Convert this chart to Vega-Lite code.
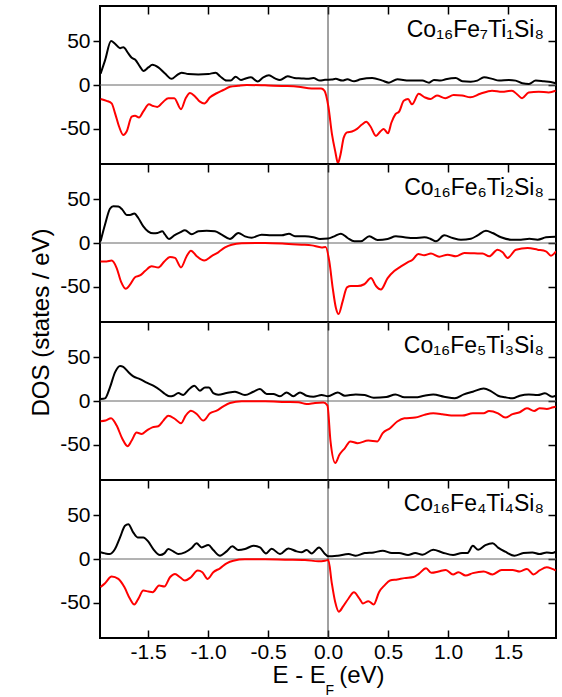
{
"$schema": "https://vega.github.io/schema/vega-lite/v6.json",
"padding": {"left": 28, "top": 4, "right": 2, "bottom": 0},
"spacing": 0,
"bounds": "flush",
"config": {
  "font": "Liberation Sans",
  "view": {"stroke": "black", "strokeWidth": 2},
  "axis": {"domain": false, "grid": false, "tickColor": "black", "tickWidth": 1.5, "labelColor": "black", "labelFont": "Liberation Sans", "labelFontSize": 21, "titleFont": "Liberation Sans", "titleFontSize": 24, "titleFontWeight": "normal", "titleColor": "black"}
},
"datasets": {
"p1up": [{"E":-1.895,"v":13},{"E":-1.858,"v":28},{"E":-1.808,"v":50},{"E":-1.775,"v":47},{"E":-1.733,"v":42},{"E":-1.706,"v":43},{"E":-1.664,"v":36},{"E":-1.636,"v":31},{"E":-1.608,"v":29},{"E":-1.567,"v":21},{"E":-1.539,"v":16},{"E":-1.497,"v":20},{"E":-1.464,"v":23},{"E":-1.414,"v":20},{"E":-1.358,"v":13},{"E":-1.303,"v":7},{"E":-1.261,"v":11},{"E":-1.22,"v":14},{"E":-1.164,"v":12.5},{"E":-1.081,"v":12},{"E":-0.997,"v":12.5},{"E":-0.936,"v":14},{"E":-0.9,"v":10},{"E":-0.845,"v":5},{"E":-0.811,"v":5},{"E":-0.77,"v":9.4},{"E":-0.725,"v":5.7},{"E":-0.686,"v":7.5},{"E":-0.642,"v":8.7},{"E":-0.586,"v":4},{"E":-0.539,"v":8.7},{"E":-0.492,"v":11},{"E":-0.442,"v":7.5},{"E":-0.4,"v":5.7},{"E":-0.336,"v":10},{"E":-0.281,"v":8},{"E":-0.22,"v":7.5},{"E":-0.17,"v":7},{"E":-0.122,"v":8},{"E":-0.067,"v":5},{"E":-0.025,"v":6},{"E":0.03,"v":6.2},{"E":0.064,"v":7},{"E":0.119,"v":5},{"E":0.161,"v":6.5},{"E":0.217,"v":4.2},{"E":0.272,"v":6.5},{"E":0.369,"v":8},{"E":0.453,"v":5},{"E":0.508,"v":2.7},{"E":0.578,"v":6.5},{"E":0.675,"v":5},{"E":0.786,"v":5},{"E":0.842,"v":2.7},{"E":0.883,"v":5.8},{"E":0.939,"v":5},{"E":0.981,"v":6.5},{"E":1.064,"v":8},{"E":1.12,"v":4.2},{"E":1.189,"v":3.8},{"E":1.244,"v":5},{"E":1.3,"v":8.8},{"E":1.369,"v":7},{"E":1.425,"v":5},{"E":1.508,"v":5.8},{"E":1.564,"v":5},{"E":1.619,"v":2},{"E":1.675,"v":1.2},{"E":1.731,"v":5},{"E":1.8,"v":4.2},{"E":1.856,"v":3.5},{"E":1.897,"v":2}],
"p1dn": [{"E":-1.895,"v":-16},{"E":-1.845,"v":-18},{"E":-1.803,"v":-21},{"E":-1.775,"v":-32},{"E":-1.742,"v":-47},{"E":-1.706,"v":-57},{"E":-1.678,"v":-53},{"E":-1.636,"v":-36},{"E":-1.608,"v":-35},{"E":-1.575,"v":-37},{"E":-1.539,"v":-30},{"E":-1.492,"v":-22},{"E":-1.456,"v":-24},{"E":-1.422,"v":-25},{"E":-1.372,"v":-19},{"E":-1.331,"v":-15},{"E":-1.281,"v":-15},{"E":-1.225,"v":-27.5},{"E":-1.186,"v":-15},{"E":-1.15,"v":-9},{"E":-1.108,"v":-13},{"E":-1.067,"v":-19},{"E":-1.031,"v":-21},{"E":-0.983,"v":-14},{"E":-0.928,"v":-9.4},{"E":-0.872,"v":-5.7},{"E":-0.817,"v":-2},{"E":-0.747,"v":-0.8},{"E":-0.678,"v":0},{"E":-0.525,"v":-0.4},{"E":-0.358,"v":-1.1},{"E":-0.247,"v":-2},{"E":-0.136,"v":-4},{"E":-0.058,"v":-4},{"E":-0.03,"v":-6.4},{"E":0.003,"v":-24.5},{"E":0.033,"v":-56},{"E":0.061,"v":-76},{"E":0.083,"v":-89},{"E":0.103,"v":-80},{"E":0.131,"v":-60},{"E":0.158,"v":-54},{"E":0.2,"v":-53},{"E":0.242,"v":-50},{"E":0.283,"v":-45},{"E":0.319,"v":-42},{"E":0.353,"v":-47},{"E":0.4,"v":-58},{"E":0.436,"v":-53},{"E":0.464,"v":-50},{"E":0.5,"v":-55},{"E":0.528,"v":-43},{"E":0.561,"v":-33.5},{"E":0.594,"v":-30},{"E":0.631,"v":-18},{"E":0.667,"v":-16},{"E":0.7,"v":-22},{"E":0.756,"v":-10},{"E":0.806,"v":-14},{"E":0.853,"v":-16},{"E":0.908,"v":-12},{"E":0.978,"v":-15},{"E":1.047,"v":-11.5},{"E":1.117,"v":-12},{"E":1.186,"v":-14},{"E":1.269,"v":-10},{"E":1.367,"v":-6.5},{"E":1.45,"v":-7.7},{"E":1.533,"v":-6.5},{"E":1.575,"v":-10.5},{"E":1.617,"v":-15},{"E":1.672,"v":-8.5},{"E":1.756,"v":-7.7},{"E":1.839,"v":-8.5},{"E":1.897,"v":-6.5}],
"p2up": [{"E":-1.895,"v":2},{"E":-1.858,"v":21},{"E":-1.817,"v":39},{"E":-1.789,"v":42},{"E":-1.747,"v":41.5},{"E":-1.714,"v":38},{"E":-1.678,"v":32},{"E":-1.65,"v":32},{"E":-1.614,"v":33.5},{"E":-1.581,"v":28.5},{"E":-1.539,"v":19},{"E":-1.497,"v":13},{"E":-1.456,"v":11},{"E":-1.42,"v":11.4},{"E":-1.381,"v":13.3},{"E":-1.358,"v":9.5},{"E":-1.325,"v":4.6},{"E":-1.281,"v":8.7},{"E":-1.233,"v":12},{"E":-1.192,"v":14.4},{"E":-1.136,"v":10},{"E":-1.081,"v":13.3},{"E":-1.011,"v":14},{"E":-0.942,"v":13.3},{"E":-0.886,"v":9.5},{"E":-0.817,"v":4.6},{"E":-0.747,"v":11.4},{"E":-0.692,"v":7.6},{"E":-0.636,"v":6},{"E":-0.553,"v":9.5},{"E":-0.47,"v":8.7},{"E":-0.386,"v":8.7},{"E":-0.325,"v":10.6},{"E":-0.275,"v":7.6},{"E":-0.192,"v":7.6},{"E":-0.122,"v":6.5},{"E":-0.067,"v":4.6},{"E":0,"v":5},{"E":0.052,"v":7.6},{"E":0.108,"v":10.6},{"E":0.163,"v":5.7},{"E":0.219,"v":1.9},{"E":0.275,"v":1.9},{"E":0.344,"v":7.6},{"E":0.413,"v":3.4},{"E":0.497,"v":4.6},{"E":0.566,"v":7.6},{"E":0.636,"v":6.5},{"E":0.719,"v":5.7},{"E":0.803,"v":6.5},{"E":0.852,"v":4.9},{"E":0.9,"v":1.9},{"E":0.969,"v":8.7},{"E":1.039,"v":5.7},{"E":1.108,"v":3.8},{"E":1.191,"v":4.9},{"E":1.247,"v":8.7},{"E":1.316,"v":14},{"E":1.372,"v":11.4},{"E":1.442,"v":6.5},{"E":1.525,"v":3.8},{"E":1.608,"v":3.8},{"E":1.678,"v":4.9},{"E":1.747,"v":3.8},{"E":1.817,"v":6.5},{"E":1.892,"v":7.2}],
"p2dn": [{"E":-1.895,"v":-21},{"E":-1.845,"v":-21},{"E":-1.803,"v":-20},{"E":-1.761,"v":-28.5},{"E":-1.725,"v":-44},{"E":-1.686,"v":-52},{"E":-1.65,"v":-47.5},{"E":-1.608,"v":-39},{"E":-1.567,"v":-37},{"E":-1.525,"v":-32},{"E":-1.47,"v":-26.6},{"E":-1.414,"v":-27.8},{"E":-1.364,"v":-21},{"E":-1.317,"v":-16},{"E":-1.275,"v":-17},{"E":-1.225,"v":-27.8},{"E":-1.178,"v":-15},{"E":-1.142,"v":-8.7},{"E":-1.094,"v":-15},{"E":-1.031,"v":-20},{"E":-0.97,"v":-15},{"E":-0.914,"v":-10.6},{"E":-0.858,"v":-5},{"E":-0.803,"v":-1.9},{"E":-0.719,"v":-0.4},{"E":-0.525,"v":0},{"E":-0.358,"v":-0.8},{"E":-0.22,"v":-1.9},{"E":-0.136,"v":-2.7},{"E":-0.053,"v":-5},{"E":-0.02,"v":-4.5},{"E":0.011,"v":-21},{"E":0.039,"v":-51},{"E":0.066,"v":-74},{"E":0.088,"v":-81},{"E":0.122,"v":-66.5},{"E":0.158,"v":-50.5},{"E":0.191,"v":-49},{"E":0.247,"v":-49},{"E":0.302,"v":-47},{"E":0.358,"v":-40},{"E":0.4,"v":-49},{"E":0.441,"v":-53},{"E":0.497,"v":-40},{"E":0.552,"v":-32},{"E":0.608,"v":-26.6},{"E":0.663,"v":-22},{"E":0.705,"v":-19},{"E":0.752,"v":-12.5},{"E":0.802,"v":-14},{"E":0.858,"v":-12},{"E":0.927,"v":-15.6},{"E":0.997,"v":-13.3},{"E":1.066,"v":-15.2},{"E":1.136,"v":-11.4},{"E":1.219,"v":-11.8},{"E":1.288,"v":-12},{"E":1.344,"v":-15.2},{"E":1.413,"v":-7.6},{"E":1.455,"v":-10.6},{"E":1.497,"v":-17},{"E":1.566,"v":-7.6},{"E":1.663,"v":-5.7},{"E":1.747,"v":-7.6},{"E":1.816,"v":-9.5},{"E":1.858,"v":-14.4},{"E":1.9,"v":-9.5}],
"p3up": [{"E":-1.895,"v":2.3},{"E":-1.858,"v":3},{"E":-1.817,"v":15.5},{"E":-1.775,"v":32.6},{"E":-1.733,"v":40},{"E":-1.706,"v":39},{"E":-1.664,"v":33},{"E":-1.622,"v":28},{"E":-1.567,"v":25},{"E":-1.511,"v":21},{"E":-1.456,"v":17.4},{"E":-1.4,"v":12.5},{"E":-1.358,"v":8},{"E":-1.317,"v":5.3},{"E":-1.289,"v":6},{"E":-1.247,"v":9},{"E":-1.206,"v":6.8},{"E":-1.164,"v":12.5},{"E":-1.114,"v":17.4},{"E":-1.067,"v":11.7},{"E":-1.025,"v":15.5},{"E":-0.992,"v":15.5},{"E":-0.956,"v":9},{"E":-0.914,"v":7.2},{"E":-0.845,"v":9},{"E":-0.775,"v":10.6},{"E":-0.692,"v":6.8},{"E":-0.622,"v":10.6},{"E":-0.567,"v":13.6},{"E":-0.511,"v":8},{"E":-0.456,"v":8},{"E":-0.4,"v":5.3},{"E":-0.345,"v":9.8},{"E":-0.289,"v":5.3},{"E":-0.233,"v":9.8},{"E":-0.178,"v":6},{"E":-0.122,"v":4.9},{"E":-0.053,"v":6.8},{"E":0,"v":5.5},{"E":0.081,"v":9.8},{"E":0.141,"v":6},{"E":0.231,"v":7.5},{"E":0.306,"v":6.8},{"E":0.381,"v":3.8},{"E":0.486,"v":4.5},{"E":0.562,"v":7.5},{"E":0.637,"v":4.2},{"E":0.727,"v":4.2},{"E":0.802,"v":6},{"E":0.877,"v":7.5},{"E":0.967,"v":4.9},{"E":1.057,"v":3},{"E":1.132,"v":7.5},{"E":1.207,"v":10.6},{"E":1.297,"v":14.3},{"E":1.357,"v":11.3},{"E":1.417,"v":6},{"E":1.477,"v":4.2},{"E":1.538,"v":3},{"E":1.598,"v":6},{"E":1.673,"v":7.5},{"E":1.748,"v":6.8},{"E":1.808,"v":8.7},{"E":1.868,"v":4.9},{"E":1.898,"v":6}],
"p3dn": [{"E":-1.895,"v":-23},{"E":-1.853,"v":-22.3},{"E":-1.808,"v":-19.7},{"E":-1.761,"v":-28},{"E":-1.714,"v":-43},{"E":-1.67,"v":-51.5},{"E":-1.636,"v":-45},{"E":-1.595,"v":-36},{"E":-1.553,"v":-37.5},{"E":-1.511,"v":-33.7},{"E":-1.464,"v":-30},{"E":-1.414,"v":-28.8},{"E":-1.372,"v":-22.3},{"E":-1.331,"v":-16.7},{"E":-1.275,"v":-20.5},{"E":-1.225,"v":-25.4},{"E":-1.186,"v":-16.7},{"E":-1.142,"v":-11},{"E":-1.094,"v":-14.8},{"E":-1.039,"v":-22.3},{"E":-0.983,"v":-14},{"E":-0.928,"v":-11},{"E":-0.872,"v":-6},{"E":-0.817,"v":-2.3},{"E":-0.719,"v":-0.4},{"E":-0.525,"v":-0.4},{"E":-0.358,"v":-1.1},{"E":-0.247,"v":-1.5},{"E":-0.178,"v":-3.4},{"E":-0.108,"v":-2.3},{"E":-0.039,"v":-1.8},{"E":-0.005,"v":-5},{"E":0.021,"v":-46},{"E":0.06,"v":-70.5},{"E":0.096,"v":-61},{"E":0.141,"v":-53.6},{"E":0.186,"v":-46},{"E":0.246,"v":-48},{"E":0.336,"v":-45},{"E":0.411,"v":-46},{"E":0.456,"v":-36.6},{"E":0.517,"v":-31},{"E":0.577,"v":-23.4},{"E":0.637,"v":-19.6},{"E":0.727,"v":-18.9},{"E":0.802,"v":-15.8},{"E":0.877,"v":-14},{"E":0.952,"v":-15},{"E":1.027,"v":-16.6},{"E":1.117,"v":-16.6},{"E":1.207,"v":-14},{"E":1.297,"v":-14},{"E":1.342,"v":-11.3},{"E":1.417,"v":-14},{"E":1.477,"v":-18.9},{"E":1.538,"v":-15},{"E":1.598,"v":-12.8},{"E":1.658,"v":-8.3},{"E":1.718,"v":-11.3},{"E":1.763,"v":-8.3},{"E":1.823,"v":-9},{"E":1.868,"v":-7.5},{"E":1.898,"v":-6.4}],
"p4up": [{"E":-1.895,"v":7.6},{"E":-1.858,"v":6.4},{"E":-1.817,"v":5.7},{"E":-1.775,"v":11.3},{"E":-1.733,"v":24.6},{"E":-1.692,"v":37.8},{"E":-1.664,"v":39.7},{"E":-1.622,"v":30},{"E":-1.586,"v":24.6},{"E":-1.539,"v":24.6},{"E":-1.497,"v":19.7},{"E":-1.456,"v":11.3},{"E":-1.4,"v":4.5},{"E":-1.364,"v":6.4},{"E":-1.331,"v":11.3},{"E":-1.289,"v":8.7},{"E":-1.247,"v":5.7},{"E":-1.192,"v":7.6},{"E":-1.136,"v":12.5},{"E":-1.095,"v":18},{"E":-1.053,"v":13.2},{"E":-0.997,"v":15.9},{"E":-0.956,"v":10.2},{"E":-0.9,"v":3.8},{"E":-0.845,"v":8.7},{"E":-0.797,"v":14.4},{"E":-0.747,"v":10.2},{"E":-0.692,"v":11.3},{"E":-0.622,"v":15.1},{"E":-0.567,"v":13.2},{"E":-0.517,"v":6.4},{"E":-0.47,"v":11.7},{"E":-0.4,"v":5.7},{"E":-0.331,"v":12.1},{"E":-0.261,"v":8.7},{"E":-0.22,"v":7.6},{"E":-0.178,"v":10.2},{"E":-0.136,"v":6.4},{"E":-0.075,"v":13.2},{"E":-0.025,"v":5.7},{"E":0.003,"v":3},{"E":0.081,"v":3.8},{"E":0.171,"v":5.6},{"E":0.231,"v":3.8},{"E":0.306,"v":6.8},{"E":0.381,"v":7.5},{"E":0.456,"v":9.4},{"E":0.532,"v":6.8},{"E":0.592,"v":6.8},{"E":0.667,"v":4.5},{"E":0.727,"v":6.8},{"E":0.787,"v":4.9},{"E":0.877,"v":10.5},{"E":0.952,"v":7.5},{"E":1.042,"v":4.5},{"E":1.117,"v":6.8},{"E":1.162,"v":6.8},{"E":1.207,"v":15},{"E":1.252,"v":10.5},{"E":1.312,"v":15.8},{"E":1.372,"v":18},{"E":1.417,"v":13},{"E":1.477,"v":8.3},{"E":1.553,"v":3.8},{"E":1.628,"v":6.8},{"E":1.703,"v":7.5},{"E":1.763,"v":5.6},{"E":1.823,"v":7.5},{"E":1.868,"v":6.8},{"E":1.898,"v":8.3}],
"p4dn": [{"E":-1.895,"v":-32},{"E":-1.858,"v":-27.6},{"E":-1.803,"v":-20},{"E":-1.747,"v":-22.7},{"E":-1.697,"v":-32},{"E":-1.65,"v":-45.4},{"E":-1.614,"v":-51.8},{"E":-1.581,"v":-45.4},{"E":-1.539,"v":-36},{"E":-1.497,"v":-37},{"E":-1.461,"v":-37.8},{"E":-1.408,"v":-30.2},{"E":-1.364,"v":-31.4},{"E":-1.317,"v":-20.8},{"E":-1.275,"v":-17},{"E":-1.233,"v":-20.8},{"E":-1.192,"v":-24.6},{"E":-1.142,"v":-20.8},{"E":-1.086,"v":-13.2},{"E":-1.047,"v":-15.1},{"E":-1.003,"v":-22.7},{"E":-0.956,"v":-15.1},{"E":-0.9,"v":-10.6},{"E":-0.845,"v":-4.9},{"E":-0.789,"v":-1.9},{"E":-0.692,"v":-0.4},{"E":-0.525,"v":-0.4},{"E":-0.358,"v":-0.8},{"E":-0.192,"v":-1.1},{"E":-0.081,"v":-2.6},{"E":-0.025,"v":-1.9},{"E":0.003,"v":-1.1},{"E":0.03,"v":-26},{"E":0.06,"v":-49},{"E":0.09,"v":-60},{"E":0.126,"v":-54},{"E":0.171,"v":-45},{"E":0.216,"v":-38},{"E":0.261,"v":-45},{"E":0.291,"v":-50.6},{"E":0.336,"v":-48},{"E":0.381,"v":-51.8},{"E":0.426,"v":-37.5},{"E":0.471,"v":-30},{"E":0.517,"v":-24.4},{"E":0.577,"v":-23.3},{"E":0.637,"v":-21.8},{"E":0.712,"v":-20.6},{"E":0.757,"v":-16.9},{"E":0.817,"v":-10.5},{"E":0.862,"v":-15.8},{"E":0.922,"v":-14.3},{"E":0.982,"v":-12.4},{"E":1.042,"v":-17.6},{"E":1.087,"v":-15},{"E":1.147,"v":-18.8},{"E":1.207,"v":-16.1},{"E":1.297,"v":-14.3},{"E":1.372,"v":-17.6},{"E":1.447,"v":-12.4},{"E":1.538,"v":-12.4},{"E":1.598,"v":-14.3},{"E":1.658,"v":-11.3},{"E":1.712,"v":-17.6},{"E":1.763,"v":-13.1},{"E":1.823,"v":-9.4},{"E":1.868,"v":-11.3},{"E":1.898,"v":-13.1}]
},
"vconcat": [
{
 "width": 456, "height": 158,
 "layer": [
  {"data": {"values": [{}]}, "mark": {"type": "rule", "color": "#666666", "strokeWidth": 1}, "encoding": {"y": {"datum": 0, "type": "quantitative", "axis": {"orient": "right", "offset": -8, "tickSize": 8, "labels": false, "values": [-50, 0, 50], "title": null}}}},
  {"data": {"values": [{}]}, "mark": {"type": "rule", "color": "#444444", "strokeWidth": 1}, "encoding": {"x": {"datum": 0, "type": "quantitative", "axis": null}}},
  {"data": {"name": "p1up"}, "mark": {"type": "line", "color": "black", "strokeWidth": 2, "interpolate": "monotone", "clip": true},
   "encoding": {"x": {"field": "E", "type": "quantitative", "scale": {"domain": [-1.9, 1.9], "nice": false, "zero": false}, "axis": {"orient": "top", "offset": -8, "tickSize": 8, "labels": false, "values": [-1.5, -1, -0.5, 0, 0.5, 1, 1.5], "title": null}},
                "y": {"field": "v", "type": "quantitative", "scale": {"domain": [-90, 90], "nice": false, "zero": false}, "axis": {"orient": "left", "tickSize": 7, "labelPadding": 3, "values": [-50, 0, 50], "labelExpr": "datum.value < 0 ? '-' + format(-datum.value, 'd') : format(datum.value, 'd')", "title": null}}}},
  {"data": {"name": "p1dn"}, "mark": {"type": "line", "color": "#ff0000", "strokeWidth": 2, "interpolate": "monotone", "clip": true},
   "encoding": {"x": {"field": "E", "type": "quantitative", "axis": null}, "y": {"field": "v", "type": "quantitative", "axis": null}}},
  {"data": {"values": [{"label": "Co₁₆Fe₇Ti₁Si₈"}]}, "mark": {"type": "text", "align": "right", "baseline": "alphabetic", "fontSize": 23, "color": "black"},
   "encoding": {"x": {"datum": 1.8, "type": "quantitative", "axis": null}, "y": {"datum": 55, "type": "quantitative", "axis": null}, "text": {"field": "label"}}}
 ],
 "resolve": {"axis": {"x": "independent", "y": "independent"}}
},
{
 "width": 456, "height": 158,
 "layer": [
  {"data": {"values": [{}]}, "mark": {"type": "rule", "color": "#666666", "strokeWidth": 1}, "encoding": {"y": {"datum": 0, "type": "quantitative", "axis": {"orient": "right", "offset": -8, "tickSize": 8, "labels": false, "values": [-50, 0, 50], "title": null}}}},
  {"data": {"values": [{}]}, "mark": {"type": "rule", "color": "#444444", "strokeWidth": 1}, "encoding": {"x": {"datum": 0, "type": "quantitative", "axis": null}}},
  {"data": {"name": "p2up"}, "mark": {"type": "line", "color": "black", "strokeWidth": 2, "interpolate": "monotone", "clip": true},
   "encoding": {"x": {"field": "E", "type": "quantitative", "scale": {"domain": [-1.9, 1.9], "nice": false, "zero": false}, "axis": {"orient": "top", "offset": -8, "tickSize": 8, "labels": false, "values": [-1.5, -1, -0.5, 0, 0.5, 1, 1.5], "title": null}},
                "y": {"field": "v", "type": "quantitative", "scale": {"domain": [-90, 90], "nice": false, "zero": false}, "axis": {"orient": "left", "tickSize": 7, "labelPadding": 3, "values": [-50, 0, 50], "labelExpr": "datum.value < 0 ? '-' + format(-datum.value, 'd') : format(datum.value, 'd')", "title": "DOS (states / eV)", "titleY": 158, "titlePadding": 6}}}},
  {"data": {"name": "p2dn"}, "mark": {"type": "line", "color": "#ff0000", "strokeWidth": 2, "interpolate": "monotone", "clip": true},
   "encoding": {"x": {"field": "E", "type": "quantitative", "axis": null}, "y": {"field": "v", "type": "quantitative", "axis": null}}},
  {"data": {"values": [{"label": "Co₁₆Fe₆Ti₂Si₈"}]}, "mark": {"type": "text", "align": "right", "baseline": "alphabetic", "fontSize": 23, "color": "black"},
   "encoding": {"x": {"datum": 1.8, "type": "quantitative", "axis": null}, "y": {"datum": 55, "type": "quantitative", "axis": null}, "text": {"field": "label"}}}
 ],
 "resolve": {"axis": {"x": "independent", "y": "independent"}}
},
{
 "width": 456, "height": 158,
 "layer": [
  {"data": {"values": [{}]}, "mark": {"type": "rule", "color": "#666666", "strokeWidth": 1}, "encoding": {"y": {"datum": 0, "type": "quantitative", "axis": {"orient": "right", "offset": -8, "tickSize": 8, "labels": false, "values": [-50, 0, 50], "title": null}}}},
  {"data": {"values": [{}]}, "mark": {"type": "rule", "color": "#444444", "strokeWidth": 1}, "encoding": {"x": {"datum": 0, "type": "quantitative", "axis": null}}},
  {"data": {"name": "p3up"}, "mark": {"type": "line", "color": "black", "strokeWidth": 2, "interpolate": "monotone", "clip": true},
   "encoding": {"x": {"field": "E", "type": "quantitative", "scale": {"domain": [-1.9, 1.9], "nice": false, "zero": false}, "axis": {"orient": "top", "offset": -8, "tickSize": 8, "labels": false, "values": [-1.5, -1, -0.5, 0, 0.5, 1, 1.5], "title": null}},
                "y": {"field": "v", "type": "quantitative", "scale": {"domain": [-90, 90], "nice": false, "zero": false}, "axis": {"orient": "left", "tickSize": 7, "labelPadding": 3, "values": [-50, 0, 50], "labelExpr": "datum.value < 0 ? '-' + format(-datum.value, 'd') : format(datum.value, 'd')", "title": null}}}},
  {"data": {"name": "p3dn"}, "mark": {"type": "line", "color": "#ff0000", "strokeWidth": 2, "interpolate": "monotone", "clip": true},
   "encoding": {"x": {"field": "E", "type": "quantitative", "axis": null}, "y": {"field": "v", "type": "quantitative", "axis": null}}},
  {"data": {"values": [{"label": "Co₁₆Fe₅Ti₃Si₈"}]}, "mark": {"type": "text", "align": "right", "baseline": "alphabetic", "fontSize": 23, "color": "black"},
   "encoding": {"x": {"datum": 1.8, "type": "quantitative", "axis": null}, "y": {"datum": 55, "type": "quantitative", "axis": null}, "text": {"field": "label"}}}
 ],
 "resolve": {"axis": {"x": "independent", "y": "independent"}}
},
{
 "width": 456, "height": 158,
 "layer": [
  {"data": {"values": [{}]}, "mark": {"type": "rule", "color": "#666666", "strokeWidth": 1}, "encoding": {"y": {"datum": 0, "type": "quantitative", "axis": {"orient": "right", "offset": -8, "tickSize": 8, "labels": false, "values": [-50, 0, 50], "title": null}}}},
  {"data": {"values": [{}]}, "mark": {"type": "rule", "color": "#444444", "strokeWidth": 1}, "encoding": {"x": {"datum": 0, "type": "quantitative", "axis": {"orient": "bottom", "offset": -8, "tickSize": 8, "labelPadding": 3, "values": [-1.5, -1, -0.5, 0, 0.5, 1, 1.5], "labelExpr": "datum.value < 0 ? '-' + format(-datum.value, '.1f') : format(datum.value, '.1f')", "title": "E - E\u00a0\u00a0(eV)", "titlePadding": 1}}}},
  {"data": {"name": "p4up"}, "mark": {"type": "line", "color": "black", "strokeWidth": 2, "interpolate": "monotone", "clip": true},
   "encoding": {"x": {"field": "E", "type": "quantitative", "scale": {"domain": [-1.9, 1.9], "nice": false, "zero": false}, "axis": {"orient": "top", "offset": -8, "tickSize": 8, "labels": false, "values": [-1.5, -1, -0.5, 0, 0.5, 1, 1.5], "title": null}},
                "y": {"field": "v", "type": "quantitative", "scale": {"domain": [-90, 90], "nice": false, "zero": false}, "axis": {"orient": "left", "tickSize": 7, "labelPadding": 3, "values": [-50, 0, 50], "labelExpr": "datum.value < 0 ? '-' + format(-datum.value, 'd') : format(datum.value, 'd')", "title": null}}}},
  {"data": {"name": "p4dn"}, "mark": {"type": "line", "color": "#ff0000", "strokeWidth": 2, "interpolate": "monotone", "clip": true},
   "encoding": {"x": {"field": "E", "type": "quantitative", "axis": null}, "y": {"field": "v", "type": "quantitative", "axis": null}}},
  {"data": {"values": [{"label": "Co₁₆Fe₄Ti₄Si₈"}]}, "mark": {"type": "text", "align": "right", "baseline": "alphabetic", "fontSize": 23, "color": "black"},
   "encoding": {"x": {"datum": 1.8, "type": "quantitative", "axis": null}, "y": {"datum": 55, "type": "quantitative", "axis": null}, "text": {"field": "label"}}},
  {"data": {"values": [{"sub": "F"}]}, "mark": {"type": "text", "align": "center", "baseline": "alphabetic", "fontSize": 14, "color": "black", "dy": 57},
   "encoding": {"x": {"datum": 0.015, "type": "quantitative", "axis": null}, "y": {"datum": -90, "type": "quantitative", "axis": null}, "text": {"field": "sub"}}}
 ],
 "resolve": {"axis": {"x": "independent", "y": "independent"}}
}
]
}
